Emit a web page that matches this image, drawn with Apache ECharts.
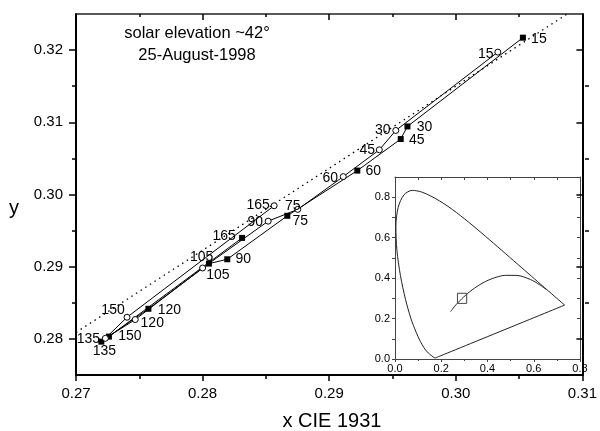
<!DOCTYPE html>
<html>
<head>
<meta charset="utf-8">
<script src="https://cdn.jsdelivr.net/npm/echarts@6.0.0/dist/echarts.min.js"></script>
<style>
html,body{margin:0;padding:0;background:#fff;}
#chart{width:600px;height:431px;}
</style>
</head>
<body>
<div id="chart"></div>
<script>
// ---------- data ----------
const angles = [15, 30, 45, 60, 75, 90, 105, 120, 135, 150, 165];
// filled squares
const sqX = [0.30530, 0.29618, 0.29565, 0.29222, 0.28669, 0.28195, 0.28050, 0.27572, 0.27200, 0.27260, 0.28312];
const sqY = [0.32172, 0.30943, 0.30768, 0.30331, 0.29705, 0.29103, 0.29043, 0.28417, 0.27962, 0.28032, 0.29399];
// open circles
const ciX = [0.30332, 0.29526, 0.29396, 0.29111, 0.28752, 0.28518, 0.28000, 0.27468, 0.27232, 0.27403, 0.28565];
const ciY = [0.31972, 0.30887, 0.30619, 0.30248, 0.29794, 0.29631, 0.28982, 0.28268, 0.28008, 0.28300, 0.29844];
// dotted reference line
const refX = [0.27, 0.3088];
const refY = [0.2809, 0.325];
// main axes
const xRange = [0.27, 0.31];
const yRange = [0.275, 0.325];
const yTicks = [0.28, 0.29, 0.30, 0.31, 0.32];
const yMinorTicks = [0.285, 0.295, 0.305, 0.315];
// inset: CIE 1931 spectral locus (380-700 nm) and Planckian locus
const locusX = [0.1741,0.1733,0.1714,0.1689,0.1644,0.1566,0.1440,0.1355,0.1241,0.1096,0.0913,0.0687,0.0454,0.0235,0.0082,0.0039,0.0139,0.0389,0.0743,0.1142,0.1547,0.1929,0.2296,0.2658,0.3016,0.3373,0.3731,0.4087,0.4441,0.4788,0.5125,0.5448,0.5752,0.6029,0.6270,0.6658,0.6915,0.7079,0.7190,0.7260,0.7334,0.7347,0.1741];
const locusY = [0.0050,0.0048,0.0051,0.0069,0.0109,0.0177,0.0297,0.0399,0.0578,0.0868,0.1327,0.2007,0.2950,0.4127,0.5384,0.6548,0.7502,0.8120,0.8338,0.8262,0.8059,0.7816,0.7543,0.7243,0.6923,0.6589,0.6245,0.5896,0.5547,0.5202,0.4866,0.4544,0.4242,0.3965,0.3725,0.3340,0.3083,0.2920,0.2809,0.2740,0.2666,0.2653,0.0050];
const planckX = [0.6528,0.6251,0.5857,0.5267,0.4770,0.4369,0.4053,0.3805,0.3451,0.3221,0.3064,0.2952,0.2807,0.2637,0.2560,0.2468,0.2399];
const planckY = [0.3444,0.3674,0.3931,0.4133,0.4137,0.4041,0.3907,0.3768,0.3516,0.3318,0.3166,0.3048,0.2884,0.2682,0.2580,0.2437,0.2342];
const insetXRange = [0, 0.8];
const insetYRange = [0, 0.9];
const insetYTicks = [0, 0.2, 0.4, 0.6, 0.8];
const insetYMinor = [0.1, 0.3, 0.5, 0.7];

// ---------- label placement (style) ----------
const sqLabelOffset = [[16,1],[17,1],[16,1],[16,1],[13,5],[16,0],[9,12],[21,1],[3,9],[21,0],[-18,-2]];
const ciLabelOffset = [[-12,2],[-13,0],[-12,0],[-13,2],[-5,-3],[-13,1],[-1,-11],[17,4],[-17,1],[-14,-7],[-16,-1]];

const FONT = '"Liberation Sans", Arial, sans-serif';

function pts(xs, ys, offs) {
  return xs.map((x, i) => {
    const d = { value: [x, ys[i]] };
    if (offs) {
      d.label = { show: true, position: 'inside', offset: offs[i], formatter: String(angles[i]) };
    }
    return d;
  });
}
const rectX = [xRange[0], xRange[1], xRange[1], xRange[0], xRange[0]];
const rectY = [yRange[0], yRange[0], yRange[1], yRange[1], yRange[0]];

const mainGrid = { left: 76, right: 11, top: 14, bottom: 56 };
const insetGrid = { left: 395, right: 20, top: 177, bottom: 72 };

const pointLabel = { color: '#000', fontSize: 14, fontFamily: FONT };
const tickLabel = { color: '#000', fontSize: 15, fontFamily: FONT };
function line(color, width) { return { onZero: false, lineStyle: { color: color, width: width } }; }

const option = {
  animation: false,
  backgroundColor: '#fff',
  grid: [
    Object.assign({}, mainGrid),
    Object.assign({}, mainGrid),
    Object.assign({ show: true, backgroundColor: '#fff', borderWidth: 0 }, insetGrid)
  ],
  xAxis: [
    { gridIndex: 0, type: 'value', position: 'bottom', min: xRange[0], max: xRange[1], interval: 0.01,
      axisLine: line('#000', 2),
      axisTick: { length: 6, lineStyle: { color: '#000', width: 1.5 } },
      minorTick: { show: true, splitNumber: 2, length: 4, lineStyle: { color: '#000', width: 1.5 } },
      axisLabel: Object.assign({ margin: 11, formatter: v => v.toFixed(2) }, tickLabel),
      splitLine: { show: false } },
    { gridIndex: 0, type: 'value', position: 'top', min: xRange[0], max: xRange[1], interval: 0.01,
      axisLine: line('#222', 1.5),
      axisTick: { inside: true, length: 6, lineStyle: { color: '#000', width: 1.5 } },
      minorTick: { show: true, splitNumber: 2, length: 3, lineStyle: { color: '#000', width: 1.5 } },
      axisLabel: { show: false }, splitLine: { show: false } },
    { gridIndex: 1, type: 'value', show: false, min: xRange[0], max: xRange[1] },
    { gridIndex: 2, type: 'value', position: 'bottom', min: insetXRange[0], max: insetXRange[1], interval: 0.2,
      axisLine: line('#444', 1),
      axisTick: { length: 3, lineStyle: { color: '#444' } },
      minorTick: { show: true, splitNumber: 2, length: 2, lineStyle: { color: '#444' } },
      axisLabel: { margin: 4, fontSize: 11, color: '#000', fontFamily: FONT, formatter: v => v.toFixed(1) },
      splitLine: { show: false } },
    { gridIndex: 2, type: 'value', position: 'top', min: insetXRange[0], max: insetXRange[1], interval: 0.2,
      axisLine: line('#444', 1),
      axisTick: { inside: true, length: 3, lineStyle: { color: '#444' } },
      minorTick: { show: true, splitNumber: 2, length: 3, lineStyle: { color: '#444' } },
      axisLabel: { show: false }, splitLine: { show: false } }
  ],
  yAxis: [
    { gridIndex: 0, type: 'value', position: 'left', min: yRange[0], max: yRange[1],
      axisLine: line('#000', 2),
      axisTick: { customValues: yTicks, length: 7, lineStyle: { color: '#000', width: 1.5 } },
      axisLabel: Object.assign({ customValues: yTicks, margin: 13, formatter: v => v.toFixed(2) }, tickLabel),
      splitLine: { show: false } },
    { gridIndex: 0, type: 'value', position: 'right', min: yRange[0], max: yRange[1],
      axisLine: line('#000', 2),
      axisTick: { customValues: yTicks, inside: true, length: 6, lineStyle: { color: '#000', width: 1.5 } },
      axisLabel: { show: false }, splitLine: { show: false } },
    { gridIndex: 1, type: 'value', position: 'left', min: yRange[0], max: yRange[1],
      axisLine: { show: false, onZero: false },
      axisTick: { customValues: yMinorTicks, length: 4, lineStyle: { color: '#000', width: 1.5 } },
      axisLabel: { show: false }, splitLine: { show: false } },
    { gridIndex: 1, type: 'value', position: 'right', min: yRange[0], max: yRange[1],
      axisLine: { show: false, onZero: false },
      axisTick: { customValues: yMinorTicks, inside: true, length: 4, lineStyle: { color: '#000', width: 1.5 } },
      axisLabel: { show: false }, splitLine: { show: false } },
    { gridIndex: 2, type: 'value', position: 'left', min: insetYRange[0], max: insetYRange[1],
      axisLine: line('#444', 1),
      axisTick: { customValues: insetYTicks.concat(insetYMinor), length: 3, lineStyle: { color: '#444' } },
      axisLabel: { customValues: insetYTicks, margin: 5, fontSize: 11, color: '#000', fontFamily: FONT, formatter: v => v.toFixed(1) },
      splitLine: { show: false } },
    { gridIndex: 2, type: 'value', position: 'right', min: insetYRange[0], max: insetYRange[1],
      axisLine: line('#444', 1),
      axisTick: { customValues: insetYTicks.concat(insetYMinor), inside: true, length: 3, lineStyle: { color: '#444' } },
      axisLabel: { show: false }, splitLine: { show: false } }
  ],
  series: [
    { type: 'line', xAxisIndex: 0, yAxisIndex: 0, data: pts(refX, refY), symbol: 'none',
      lineStyle: { color: '#000', width: 1.3, type: [1.5, 4] }, silent: true },
    { type: 'line', xAxisIndex: 0, yAxisIndex: 0, data: pts(sqX, sqY, sqLabelOffset),
      symbol: 'rect', symbolSize: 6, itemStyle: { color: '#000' },
      lineStyle: { color: '#000', width: 1 }, label: pointLabel, z: 3 },
    { type: 'line', xAxisIndex: 0, yAxisIndex: 0, data: pts(ciX, ciY, ciLabelOffset),
      symbol: 'circle', symbolSize: 6, itemStyle: { color: '#fff', borderColor: '#000', borderWidth: 1 },
      lineStyle: { color: '#000', width: 1 }, label: pointLabel, z: 4 },
    { type: 'line', xAxisIndex: 3, yAxisIndex: 4, data: pts(locusX, locusY), symbol: 'none', smooth: 0.3,
      lineStyle: { color: '#222', width: 1 } },
    { type: 'line', xAxisIndex: 3, yAxisIndex: 4, data: pts(planckX, planckY), symbol: 'none', smooth: 0.3,
      lineStyle: { color: '#222', width: 1 } },
    { type: 'line', xAxisIndex: 3, yAxisIndex: 4, data: pts(rectX, rectY), symbol: 'none',
      lineStyle: { color: '#444', width: 1 } }
  ],
  graphic: [
    { type: 'text', x: 197, y: 33, style: { text: 'solar elevation ~42°', fontSize: 16.5, fontFamily: FONT, fill: '#000', align: 'center', verticalAlign: 'middle' } },
    { type: 'text', x: 197, y: 55, style: { text: '25-August-1998', fontSize: 16.5, fontFamily: FONT, fill: '#000', align: 'center', verticalAlign: 'middle' } },
    { type: 'text', x: 14, y: 208, style: { text: 'y', fontSize: 20, fontFamily: FONT, fill: '#000', align: 'center', verticalAlign: 'middle' } },
    { type: 'text', x: 332, y: 421, style: { text: 'x CIE 1931', fontSize: 20, fontFamily: FONT, fill: '#000', align: 'center', verticalAlign: 'middle' } }
  ]
};

const chart = echarts.init(document.getElementById('chart'), null, { renderer: 'canvas' });
chart.setOption(option);
</script>
</body>
</html>
